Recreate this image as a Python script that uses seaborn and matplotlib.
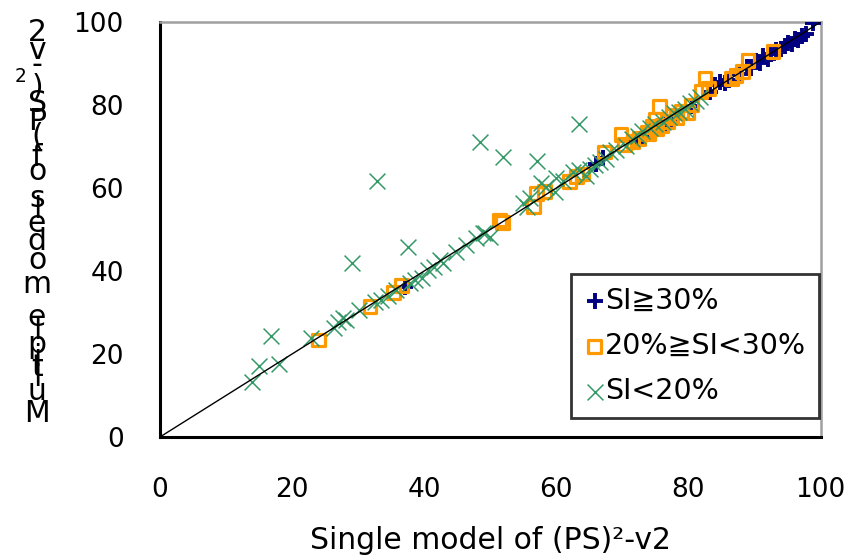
import numpy as np
import pandas as pd
import matplotlib
matplotlib.use("Agg")
import matplotlib.pyplot as plt
import seaborn as sns
from matplotlib.font_manager import FontProperties

# ---------------- data ----------------
blue_x = [37.1, 67.1, 72.1, 73.1, 73.9, 76.5, 78.0, 83.2, 84.0, 84.7, 85.5, 87.8, 88.8, 89.5,
          90.2, 90.8, 91.3, 92.0, 92.5, 93.3, 94.0, 94.6, 95.1, 95.6, 96.1, 96.6, 97.2, 97.8,
          98.8, 66.0, 80.5, 86.2]
blue_y = [36.2, 67.2, 71.2, 73.2, 74.0, 75.3, 76.8, 83.2, 84.8, 85.6, 85.2, 87.5, 89.2, 89.0,
          90.5, 90.2, 91.8, 91.0, 92.4, 93.2, 93.6, 94.3, 95.0, 94.8, 96.0, 95.7, 96.6, 97.2,
          99.7, 65.8, 79.8, 86.0]

orange_x = [24.0, 31.8, 35.3, 36.6, 51.4, 51.9, 56.6, 57.0, 58.2, 62.0, 63.0, 64.0, 67.3, 69.8,
            70.3, 71.6, 72.5, 73.8, 74.5, 75.2, 75.6, 76.0, 76.8, 77.5, 78.2, 79.0, 79.8, 80.5,
            81.9, 82.5, 86.5, 87.2, 88.2, 89.0, 92.8, 75.0, 74.0, 83.0]
orange_y = [23.4, 31.4, 34.9, 36.5, 52.3, 51.6, 55.5, 58.7, 59.1, 61.5, 62.7, 63.4, 68.7, 72.8,
            70.4, 71.2, 72.0, 73.5, 74.8, 74.2, 79.6, 75.0, 76.0, 77.5, 77.0, 78.5, 78.2, 80.0,
            83.2, 86.4, 86.4, 87.2, 88.0, 90.8, 92.8, 76.5, 73.0, 84.0]

green_x = [13.9, 15.0, 18.0, 16.8, 22.8, 29.1, 32.8, 37.6, 48.4, 51.9, 57.0, 63.5,
           26.3, 26.9, 28.2, 27.7, 32.5, 33.5, 35.8, 37.8, 38.6, 39.6, 40.6, 42.4, 42.9, 46.4,
           47.9, 48.9, 49.2, 49.9, 55.5, 57.7, 58.5, 59.8, 59.9, 62.5, 63.5, 65.1, 65.8, 66.6,
           68.1, 69.1, 70.6, 71.5, 72.3, 73.0, 74.2, 75.0, 76.2, 77.0, 77.8, 78.6, 79.5, 80.3,
           81.2, 81.8, 55.0, 56.0, 61.0, 64.5, 67.5, 44.8, 41.5, 34.5, 30.2]
green_y = [13.3, 17.1, 17.6, 24.3, 23.8, 41.9, 61.8, 45.9, 71.2, 67.4, 66.6, 75.4,
           26.2, 27.8, 28.2, 28.7, 32.6, 33.0, 35.4, 37.0, 37.8, 38.2, 40.2, 42.7, 41.9, 46.3,
           47.9, 49.1, 49.1, 48.3, 55.5, 61.1, 60.3, 59.1, 62.3, 63.9, 64.3, 64.7, 65.5, 66.3,
           68.7, 69.2, 70.2, 71.8, 72.5, 73.8, 74.5, 75.5, 75.8, 77.2, 78.0, 78.3, 79.0, 80.5,
           81.0, 82.0, 56.5, 57.5, 61.8, 63.0, 67.0, 44.5, 41.0, 34.0, 30.5]

identity = [0, 100]

labels = ["SI\u226730%", "20%\u2267SI<30%", "SI<20%"]
x_title = "Single model of (PS)\u00b2-v2"
y_title = "Multiple models of (PS)\u00b2-v2"
ticks = [0, 20, 40, 60, 80, 100]

# ---------------- plot ----------------
sns.set_style("white")
plt.rcParams['font.family'] = ['DejaVu Sans', 'Noto Sans CJK JP']
plt.rcParams['text.color'] = 'black'
plt.rcParams['axes.labelcolor'] = 'black'
TICK_FS = 19
LABEL_FS = 21.5
LEG_FS = 20.5

fig = plt.figure(figsize=(8.46, 5.6), dpi=100)
ax = fig.add_axes([0.189, 0.2196, 0.781, 0.7411])

df_b = pd.DataFrame({"x": blue_x, "y": blue_y})
df_o = pd.DataFrame({"x": orange_x, "y": orange_y})
df_g = pd.DataFrame({"x": green_x, "y": green_y})

sns.scatterplot(data=df_b, x="x", y="y", ax=ax, marker="+", color="#000080",
                s=120, linewidth=2.8, label=labels[0], zorder=3)
sns.scatterplot(data=df_o, x="x", y="y", ax=ax, marker="s", facecolor="none",
                edgecolor="#FF9900", s=85, linewidth=2.3, label=labels[1], zorder=3)
sns.scatterplot(data=df_g, x="x", y="y", ax=ax, marker="x", color="#339966",
                s=130, linewidth=1.1, label=labels[2], zorder=4)
sns.lineplot(x=identity, y=identity, ax=ax, color="black", linewidth=1.0, zorder=5)

ax.set_xlim(0, 100)
ax.set_ylim(0, 100)
ax.set_xticks(ticks)
ax.set_yticks(ticks)
ax.tick_params(axis="both", direction="in", length=7, width=2, labelsize=TICK_FS,
               colors="black", labelcolor="black")
ax.tick_params(axis="x", pad=29)
ax.tick_params(axis="y", pad=26)

for side in ["left", "bottom"]:
    ax.spines[side].set_color("black")
    ax.spines[side].set_linewidth(2.2)
for side in ["top", "right"]:
    ax.spines[side].set_color("#a0a0a0")
    ax.spines[side].set_linewidth(1.8)
    ax.spines[side].set_visible(True)

ax.set_xlabel(x_title, fontsize=LABEL_FS, labelpad=16, color="black")
ax.set_ylabel("")

leg = ax.legend(loc="lower right", bbox_to_anchor=(0.998, 0.046), borderaxespad=0,
                fontsize=LEG_FS, frameon=True, fancybox=False, handletextpad=0.0,
                handlelength=0.75, labelspacing=0.6, borderpad=0.45)
leg.get_frame().set_edgecolor("black")
leg.get_frame().set_linewidth(2.0)
for t in leg.get_texts():
    t.set_color("black")

# stacked upright y-title (each glyph upright, advancing along a vertical baseline)
renderer = fig.canvas.get_renderer()
fp = FontProperties(family="DejaVu Sans", size=LABEL_FS)
W, H = fig.get_size_inches() * fig.dpi

def adv(s):
    if not s:
        return 0.0
    s2 = s.replace(" ", "\u00a0")
    w, h, d = renderer.get_text_width_height_descent(s2, fp, ismath=False)
    return w

total = adv(y_title)
center_y = (H - 225)
bottom = center_y - total / 2
xcol = 37
for i, ch in enumerate(y_title):
    if ch == " ":
        continue
    a0 = adv(y_title[:i]); a1 = adv(y_title[:i + 1])
    yc = bottom + (a0 + a1) / 2
    if ch == "\u00b2":
        fig.text((xcol - 16) / W, yc / H, "2", fontsize=LABEL_FS * 0.62, ha="center",
                 va="center", color="black")
    else:
        fig.text(xcol / W, yc / H, ch, fontsize=LABEL_FS, ha="center", va="center",
                 color="black")

fig.savefig("out.png", dpi=100)
